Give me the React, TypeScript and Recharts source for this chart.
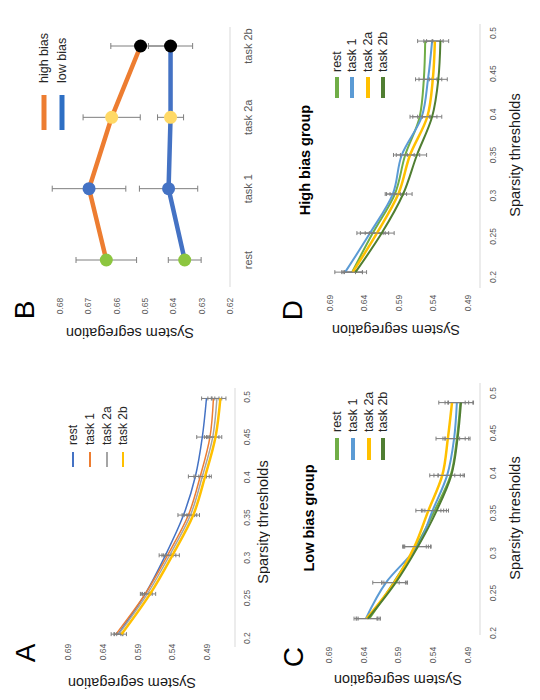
import { ErrorBar, Line, LineChart, XAxis, YAxis } from "recharts";

const FONT = '"Liberation Sans", Arial, Helvetica, sans-serif';
const PW = 350;
const PH = 270;

const sparsityTicks = [0.2, 0.25, 0.3, 0.35, 0.4, 0.45, 0.5];
const segregationTicks = [0.49, 0.54, 0.59, 0.64, 0.69];
const biasTicks = [0.62, 0.63, 0.64, 0.65, 0.66, 0.67, 0.68];
const conditions = ["rest", "task 1", "task 2a", "task 2b"];
const seriesKeys = ["rest", "task1", "task2a", "task2b"];

// A - all participants
const sparsityA = [0.205, 0.255, 0.303, 0.353, 0.401, 0.45, 0.498];
const restA = [0.618, 0.579, 0.55, 0.524, 0.507, 0.497, 0.491];
const task1A = [0.621, 0.579, 0.547, 0.517, 0.5, 0.486, 0.481];
const task2aA = [0.617, 0.576, 0.544, 0.514, 0.497, 0.482, 0.476];
const task2bA = [0.613, 0.572, 0.54, 0.51, 0.493, 0.478, 0.471];
const restErrA = [0.006, 0.007, 0.009, 0.008, 0.01, 0.008, 0.007];
const task1ErrA = [0.007, 0.006, 0.008, 0.009, 0.009, 0.008, 0.008];
const task2aErrA = [0.006, 0.007, 0.009, 0.009, 0.01, 0.009, 0.007];
const task2bErrA = [0.007, 0.008, 0.01, 0.009, 0.009, 0.009, 0.008];

// B - mean per condition
const highBias = [0.6637, 0.6698, 0.6618, 0.6516];
const highBiasErr = [0.0107, 0.013, 0.0101, 0.0105];
const lowBias = [0.636, 0.6417, 0.641, 0.641];
const lowBiasErr = [0.0058, 0.0103, 0.0046, 0.0078];
const conditionMarkers = ["#8cc63f", "#4472c4", "#ffd966", "#000000"];

// C - low bias group
const sparsityC = [0.218, 0.263, 0.308, 0.353, 0.397, 0.443, 0.488];
const restC = [0.632, 0.597, 0.565, 0.538, 0.515, 0.506, 0.501];
const task1C = [0.637, 0.608, 0.563, 0.541, 0.52, 0.51, 0.506];
const task2aC = [0.636, 0.596, 0.567, 0.547, 0.527, 0.519, 0.513];
const task2bC = [0.634, 0.594, 0.562, 0.535, 0.514, 0.505, 0.5];
const restErrC = [0.016, 0.017, 0.018, 0.017, 0.018, 0.017, 0.018];
const task1ErrC = [0.017, 0.019, 0.019, 0.016, 0.019, 0.016, 0.017];
const task2aErrC = [0.015, 0.018, 0.017, 0.018, 0.018, 0.017, 0.019];
const task2bErrC = [0.016, 0.017, 0.019, 0.017, 0.019, 0.018, 0.018];

// D - high bias group
const sparsityD = [0.206, 0.254, 0.302, 0.35, 0.397, 0.443, 0.49];
const restD = [0.658, 0.628, 0.596, 0.581, 0.56, 0.554, 0.552];
const task1D = [0.668, 0.632, 0.599, 0.586, 0.557, 0.548, 0.542];
const task2aD = [0.657, 0.622, 0.591, 0.574, 0.549, 0.541, 0.538];
const task2bD = [0.653, 0.615, 0.584, 0.564, 0.542, 0.533, 0.53];
const restErrD = [0.015, 0.018, 0.012, 0.013, 0.014, 0.012, 0.011];
const task1ErrD = [0.015, 0.019, 0.011, 0.012, 0.013, 0.013, 0.012];
const task2aErrD = [0.014, 0.017, 0.012, 0.014, 0.014, 0.013, 0.012];
const task2bErrD = [0.016, 0.018, 0.013, 0.014, 0.014, 0.013, 0.012];

const allSeries = [
	{ color: "#4472c4", width: 1.5 },
	{ color: "#ed7d31", width: 1.5 },
	{ color: "#a5a5a5", width: 1.5 },
	{ color: "#ffc000", width: 2.5 },
];
const groupSeries = [
	{ color: "#70ad47", width: 2 },
	{ color: "#5b9bd5", width: 2 },
	{ color: "#ffc000", width: 2.5 },
	{ color: "#507e32", width: 2 },
];

function buildRows(xs: number[], cols: number[][], errs: number[][]) {
	return xs.map((x, i) => {
		const row: Record<string, number> = { x };
		seriesKeys.forEach((k, s) => {
			row[k] = cols[s][i];
			row[k + "Err"] = errs[s][i];
		});
		return row;
	});
}

const yTick = (cx: number) => (p: any) => (
	<text
		x={cx}
		y={p.y}
		textAnchor="middle"
		dominantBaseline="central"
		fontSize={8.5}
		fill="#595959"
		fontFamily={FONT}
	>
		{p.payload.value}
	</text>
);

const xTick = (cy: number, size: number) => (p: any) => (
	<text
		x={p.x}
		y={cy}
		textAnchor="middle"
		dominantBaseline="central"
		fontSize={size}
		fill="#595959"
		fontFamily={FONT}
	>
		{p.payload.value}
	</text>
);

const panelA = {
	left: 0,
	top: 0,
	letter: "A",
	letterPos: [47, 35],
	rows: buildRows(
		sparsityA,
		[restA, task1A, task2aA, task2bA],
		[restErrA, task1ErrA, task2aErrA, task2bErrA],
	),
	series: allSeries,
	plot: { left: 53, right: 312, top: 68, bottom: 235 },
	xDomain: [0.189, 0.511],
	yDomain: [0.45, 0.69],
	yTickX: 48,
	xTickY: 247,
	yTitle: [17, 132],
	xTitle: [178, 263],
	title: null as null | { text: string; x: number; y: number },
	legend: { x1: 233, x2: 248, textX: 255, rows: [73, 90, 107, 123], width: 2, size: 12 },
};

const panelC = {
	left: 0,
	top: 270,
	letter: "C",
	letterPos: [43, 33],
	rows: buildRows(
		sparsityC,
		[restC, task1C, task2aC, task2bC],
		[restErrC, task1ErrC, task2aErrC, task2bErrC],
	),
	series: groupSeries,
	plot: { left: 65, right: 317, top: 59, bottom: 210 },
	xDomain: [0.1975, 0.5125],
	yDomain: [0.4727, 0.69],
	yTickX: 45,
	xTickY: 223,
	yTitle: [20, 128],
	xTitle: [182, 245],
	title: { text: "Low bias group", x: 182, y: 39 },
	legend: { x1: 240, x2: 262, textX: 268, rows: [67, 83, 99, 113], width: 4, size: 12.5 },
};

const panelD = {
	left: 350,
	top: 270,
	letter: "D",
	letterPos: [40, 32],
	rows: buildRows(
		sparsityD,
		[restD, task1D, task2aD, task2bD],
		[restErrD, task1ErrD, task2aErrD, task2bErrD],
	),
	series: groupSeries,
	plot: { left: 62, right: 326, top: 60, bottom: 210 },
	xDomain: [0.1865, 0.511],
	yDomain: [0.4726, 0.69],
	yTickX: 47,
	xTickY: 223,
	yTitle: [20, 126],
	xTitle: [195, 245],
	title: { text: "High bias group", x: 190, y: 35 },
	legend: { x1: 252, x2: 273, textX: 278, rows: [67, 82, 98, 113], width: 4, size: 12.5 },
};

function PanelLetter({ text, x, y }: { text: string; x: number; y: number }) {
	return (
		<text x={x} y={y} textAnchor="middle" fontSize={28} fill="#000" fontFamily={FONT}>
			{text}
		</text>
	);
}

function YTitle({ x, y }: { x: number; y: number }) {
	return (
		<text
			transform={`translate(${x},${y}) rotate(-90)`}
			textAnchor="middle"
			dominantBaseline="central"
			fontSize={14.5}
			fill="#1a1a1a"
			fontFamily={FONT}
		>
			System segregation
		</text>
	);
}

function ThresholdPanel({ cfg }: { cfg: typeof panelA }) {
	const { plot, legend } = cfg;
	return (
		<div
			style={{
				position: "absolute",
				left: cfg.left,
				top: cfg.top,
				width: PW,
				height: PH,
				overflow: "hidden",
				background: "#fff",
			}}
		>
			<LineChart
				width={PW}
				height={PH}
				data={cfg.rows}
				margin={{ top: plot.top, right: PW - plot.right, bottom: 0, left: 0 }}
			>
				<XAxis
					type="number"
					dataKey="x"
					domain={cfg.xDomain}
					ticks={sparsityTicks}
					interval={0}
					height={PH - plot.bottom}
					axisLine={{ stroke: "#d9d9d9" }}
					tickLine={false}
					tick={xTick(cfg.xTickY - plot.bottom + plot.bottom, 8.5)}
				/>
				<YAxis
					type="number"
					domain={cfg.yDomain}
					ticks={segregationTicks}
					interval={0}
					width={plot.left}
					axisLine={false}
					tickLine={false}
					tick={yTick(cfg.yTickX)}
				/>
				{cfg.series.map((s, i) => (
					<Line
						key={seriesKeys[i]}
						dataKey={seriesKeys[i]}
						type="monotone"
						stroke={s.color}
						strokeWidth={s.width}
						dot={false}
						activeDot={false}
						isAnimationActive={false}
					>
						<ErrorBar
							dataKey={seriesKeys[i] + "Err"}
							direction="y"
							width={2}
							stroke="#7f7f7f"
							strokeWidth={1}
						/>
					</Line>
				))}
			</LineChart>
			<svg width={PW} height={PH} style={{ position: "absolute", left: 0, top: 0 }}>
				<PanelLetter text={cfg.letter} x={cfg.letterPos[0]} y={cfg.letterPos[1]} />
				<YTitle x={cfg.yTitle[0]} y={cfg.yTitle[1]} />
				<text
					x={cfg.xTitle[0]}
					y={cfg.xTitle[1]}
					textAnchor="middle"
					dominantBaseline="central"
					fontSize={14.5}
					fill="#1a1a1a"
					fontFamily={FONT}
				>
					Sparsity thresholds
				</text>
				{cfg.title && (
					<text
						x={cfg.title.x}
						y={cfg.title.y}
						textAnchor="middle"
						dominantBaseline="central"
						fontSize={14.5}
						fontWeight="bold"
						fill="#000"
						fontFamily={FONT}
					>
						{cfg.title.text}
					</text>
				)}
				{cfg.series.map((s, i) => (
					<g key={i}>
						<line
							x1={legend.x1}
							x2={legend.x2}
							y1={legend.rows[i]}
							y2={legend.rows[i]}
							stroke={s.color}
							strokeWidth={legend.width}
						/>
						<text
							x={legend.textX}
							y={legend.rows[i]}
							dominantBaseline="central"
							fontSize={legend.size}
							fill="#262626"
							fontFamily={FONT}
						>
							{conditions[i]}
						</text>
					</g>
				))}
			</svg>
		</div>
	);
}

const biasRows = conditions.map((c, i) => ({
	cond: c,
	high: highBias[i],
	highErr: highBiasErr[i],
	low: lowBias[i],
	lowErr: lowBiasErr[i],
}));

const markerDot = (p: any) => (
	<circle
		key={`${p.dataKey}-${p.index}`}
		cx={p.cx}
		cy={p.cy}
		r={6.5}
		fill={conditionMarkers[p.index]}
	/>
);

function BiasPanel() {
	return (
		<div
			style={{
				position: "absolute",
				left: 350,
				top: 0,
				width: PW,
				height: PH,
				overflow: "hidden",
				background: "#fff",
			}}
		>
			<LineChart
				width={PW}
				height={PH}
				data={biasRows}
				margin={{ top: 46, right: PW - 323, bottom: 0, left: 0 }}
			>
				<XAxis
					dataKey="cond"
					type="category"
					padding={{ left: 27, right: 19 }}
					interval={0}
					height={PH - 230}
					axisLine={{ stroke: "#d9d9d9" }}
					tickLine={false}
					tick={xTick(248, 11)}
				/>
				<YAxis
					type="number"
					domain={[0.62, 0.685]}
					ticks={biasTicks}
					interval={0}
					width={63}
					axisLine={false}
					tickLine={false}
					tick={yTick(44)}
				/>
				<Line
					dataKey="high"
					stroke="#ed7d31"
					strokeWidth={4.5}
					dot={markerDot}
					activeDot={false}
					isAnimationActive={false}
				>
					<ErrorBar dataKey="highErr" direction="y" width={3} stroke="#7f7f7f" strokeWidth={1} />
				</Line>
				<Line
					dataKey="low"
					stroke="#4472c4"
					strokeWidth={4.5}
					dot={markerDot}
					activeDot={false}
					isAnimationActive={false}
				>
					<ErrorBar dataKey="lowErr" direction="y" width={3} stroke="#7f7f7f" strokeWidth={1} />
				</Line>
			</LineChart>
			<svg width={PW} height={PH} style={{ position: "absolute", left: 0, top: 0 }}>
				<PanelLetter text="B" x={40} y={34} />
				<YTitle x={17} y={130} />
				<line x1={220} x2={255} y1={44} y2={44} stroke="#ed7d31" strokeWidth={5} />
				<text x={267} y={44} dominantBaseline="central" fontSize={12.5} fill="#262626" fontFamily={FONT}>
					high bias
				</text>
				<line x1={220} x2={255} y1={62} y2={62} stroke="#2e6fc4" strokeWidth={5} />
				<text x={267} y={62} dominantBaseline="central" fontSize={12.5} fill="#262626" fontFamily={FONT}>
					low bias
				</text>
			</svg>
		</div>
	);
}

export default function App() {
	return (
		<div
			style={{
				position: "absolute",
				left: 0,
				top: 0,
				width: 540,
				height: 700,
				overflow: "hidden",
				background: "#fff",
			}}
		>
			<div
				style={{
					position: "absolute",
					left: 0,
					top: 0,
					width: 700,
					height: 540,
					transformOrigin: "0 0",
					transform: "translateY(700px) rotate(-90deg)",
				}}
			>
				<ThresholdPanel cfg={panelA} />
				<BiasPanel />
				<ThresholdPanel cfg={panelC} />
				<ThresholdPanel cfg={panelD} />
			</div>
		</div>
	);
}
